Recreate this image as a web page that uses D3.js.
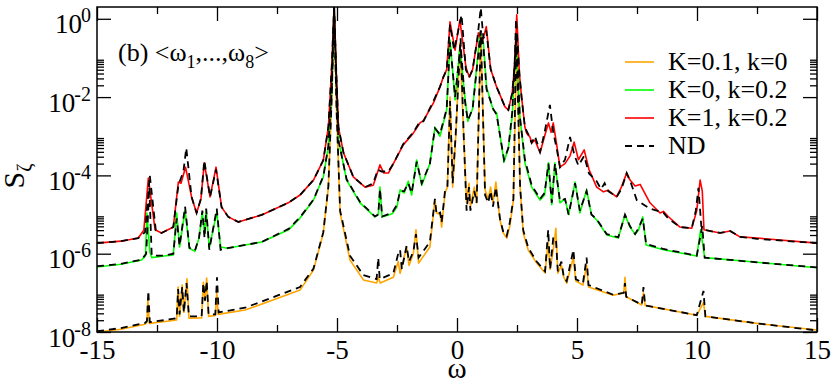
<!DOCTYPE html>
<html>
<head>
<meta charset="utf-8">
<script src="https://cdn.jsdelivr.net/npm/d3@7"></script>
<style>
  body { margin: 0; background: #fff; }
  text { font-family: "Liberation Serif", "Times New Roman", serif; fill: #000; }
</style>
</head>
<body>
<div id="chart"></div>
<script>
// pairs are [omega, log10 S]
const orangeK01 = [[-15,-8.0],[-14,-7.93],[-13.0,-7.80],[-12.92,-7.75],[-12.88,-7.18],[-12.82,-7.78],[-12.0,-7.72],[-11.68,-7.69],[-11.62,-6.85],[-11.56,-7.6],[-11.45,-6.80],[-11.38,-7.5],[-11.25,-6.64],[-11.17,-7.65],[-10.64,-7.64],[-10.57,-6.73],[-10.50,-7.2],[-10.43,-6.62],[-10.35,-7.6],[-10.07,-7.58],[-10.01,-7.0],[-9.95,-7.55],[-8.83,-7.44],[-7.44,-7.13],[-6.54,-6.93],[-5.98,-6.42],[-5.57,-5.47],[-5.36,-4.30],[-5.22,-2.07],[-5.12,0.3],[-5.02,-2.3],[-4.87,-4.96],[-4.46,-6.16],[-3.90,-6.67],[-3.35,-6.75],[-3.28,-6.6],[-3.2,-6.75],[-2.65,-6.60],[-2.45,-6.2],[-2.37,-6.5],[-2.1,-5.83],[-2.0,-6.3],[-1.82,-6.0],[-1.71,-5.39],[-1.60,-6.24],[-1.13,-5.83],[-0.92,-4.63],[-0.85,-4.96],[-0.70,-5.0],[-0.64,-5.32],[-0.50,-4.45],[-0.40,-4.3],[-0.29,-2.0],[-0.18,-4.3],[-0.05,-3.0],[0.12,-0.62],[0.28,-3.0],[0.40,-4.70],[0.50,-4.2],[0.56,-4.8],[0.72,-4.3],[0.82,-4.7],[0.99,-0.40],[1.17,-4.37],[1.30,-4.6],[1.40,-4.3],[1.50,-4.7],[1.62,-4.17],[1.79,-5.14],[1.93,-5.47],[2.07,-5.60],[2.20,-5.3],[2.35,-4.63],[2.49,-0.5],[2.63,-4.3],[2.76,-5.47],[2.97,-5.91],[3.32,-6.24],[3.67,-6.49],[3.80,-5.7],[3.88,-6.4],[4.01,-5.9],[4.12,-5.35],[4.20,-6.5],[4.35,-6.3],[4.45,-6.6],[4.57,-6.75],[4.85,-6.1],[4.95,-6.7],[5.25,-6.8],[5.40,-6.3],[5.48,-6.85],[6.51,-7.06],[6.95,-7.0],[7.0,-6.60],[7.05,-7.1],[7.70,-7.31],[7.77,-7.0],[7.84,-7.32],[9.99,-7.57],[10.27,-7.25],[10.35,-7.6],[12.5,-7.78],[15,-7.95]];

const greenK0 = [[-15,-6.34],[-14,-6.27],[-13.14,-6.16],[-12.98,-6.05],[-12.92,-4.96],[-12.80,-5.95],[-12.72,-6.1],[-12.2,-6.06],[-11.82,-6.03],[-11.68,-4.96],[-11.56,-5.83],[-11.33,-4.89],[-11.15,-5.86],[-10.92,-5.94],[-10.75,-5.6],[-10.61,-4.96],[-10.52,-5.5],[-10.45,-4.90],[-10.32,-5.85],[-10.01,-4.94],[-9.85,-5.83],[-9.57,-5.86],[-8.14,-5.70],[-7.0,-5.38],[-6.54,-5.09],[-5.98,-4.63],[-5.57,-4.04],[-5.36,-3.28],[-5.22,-1.82],[-5.12,0.3],[-5.02,-1.8],[-4.94,-3.09],[-4.6,-4.12],[-4.04,-4.70],[-3.42,-5.06],[-3.28,-5.0],[-3.21,-4.30],[-3.12,-5.06],[-2.7,-4.98],[-2.5,-4.8],[-2.37,-4.37],[-2.2,-4.45],[-2.03,-4.15],[-1.89,-4.5],[-1.68,-3.61],[-1.47,-4.25],[-1.13,-3.7],[-0.92,-2.77],[-0.71,-3.0],[-0.43,-2.33],[-0.29,-0.54],[-0.08,-2.07],[0.12,-0.72],[0.33,-2.0],[0.45,-2.62],[0.65,-2.3],[0.96,-0.36],[1.10,-0.6],[1.23,-1.74],[1.51,-2.33],[1.65,-2.4],[1.96,-3.66],[2.14,-3.3],[2.30,-2.5],[2.46,-0.54],[2.62,-2.5],[2.83,-3.68],[3.11,-4.30],[3.46,-4.63],[3.65,-4.5],[3.81,-3.68],[3.95,-4.75],[4.08,-3.68],[4.29,-4.70],[4.50,-4.6],[4.65,-5.0],[4.92,-4.17],[5.12,-4.96],[5.40,-4.37],[5.60,-5.0],[5.82,-5.14],[6.24,-5.52],[6.72,-5.60],[7.0,-5.01],[7.21,-5.32],[7.42,-5.5],[7.56,-5.4],[7.74,-5.06],[7.88,-5.78],[8.6,-5.9],[9.99,-6.06],[10.15,-5.39],[10.32,-6.1],[12.5,-6.22],[15,-6.36]];

const redK1 = [[-15,-5.73],[-14,-5.68],[-13.28,-5.60],[-13.05,-5.4],[-12.86,-4.07],[-12.58,-5.39],[-12.31,-5.47],[-11.82,-5.32],[-11.61,-4.17],[-11.5,-4.2],[-11.31,-3.79],[-11.06,-4.55],[-10.85,-4.96],[-10.67,-4.6],[-10.53,-3.68],[-10.29,-4.55],[-10.04,-3.79],[-9.81,-4.81],[-9.53,-5.06],[-9.11,-5.19],[-8.14,-5.01],[-7.03,-4.70],[-6.54,-4.50],[-5.98,-4.12],[-5.57,-3.61],[-5.36,-2.77],[-5.22,-1.23],[-5.12,0.3],[-5.02,-1.5],[-4.94,-2.77],[-4.73,-3.42],[-4.32,-4.04],[-3.83,-4.30],[-3.49,-4.25],[-3.30,-3.9],[-3.21,-3.73],[-3.05,-3.94],[-2.86,-3.94],[-2.65,-3.70],[-2.24,-3.22],[-1.82,-2.92],[-1.54,-2.66],[-1.40,-2.6],[-0.98,-2.15],[-0.71,-1.74],[-0.57,-1.49],[-0.43,-1.3],[-0.29,-0.08],[-0.08,-0.80],[0.12,-0.03],[0.37,-1.23],[0.51,-1.49],[0.65,-1.3],[0.89,-0.36],[1.05,-0.6],[1.22,-0.2],[1.40,-1.28],[1.65,-1.74],[2.0,-2.25],[2.14,-2.33],[2.30,-1.9],[2.40,-1.2],[2.49,0.1],[2.60,-1.4],[2.69,-2.0],[2.83,-2.77],[2.90,-2.92],[3.04,-3.02],[3.11,-3.17],[3.25,-3.1],[3.46,-3.42],[3.65,-3.0],[3.81,-2.66],[3.92,-2.9],[4.01,-2.66],[4.15,-3.2],[4.29,-3.79],[4.50,-3.7],[4.71,-3.5],[4.88,-3.15],[5.06,-3.6],[5.30,-3.35],[5.50,-3.85],[5.82,-4.30],[6.10,-4.42],[6.30,-4.38],[6.65,-4.55],[6.85,-4.3],[7.07,-3.94],[7.21,-4.12],[7.42,-4.27],[7.63,-4.23],[8.04,-4.70],[8.46,-4.96],[8.6,-4.92],[8.8,-5.05],[9.29,-5.32],[9.78,-5.35],[9.99,-4.9],[10.13,-4.12],[10.22,-4.4],[10.29,-5.39],[10.96,-5.47],[11.38,-5.42],[11.79,-5.57],[12.5,-5.6],[15,-5.73]];

const ndOrange = [[-15,-7.98],[-14,-7.9],[-13.0,-7.77],[-12.92,-7.72],[-12.86,-6.95],[-12.80,-7.75],[-12.0,-7.68],[-11.68,-7.65],[-11.62,-6.9],[-11.56,-7.55],[-11.45,-6.85],[-11.38,-7.5],[-11.27,-6.75],[-11.17,-7.6],[-10.64,-7.6],[-10.57,-6.75],[-10.50,-7.2],[-10.43,-6.7],[-10.35,-7.55],[-10.07,-7.55],[-10.00,-6.60],[-9.93,-7.5],[-8.83,-7.38],[-7.44,-7.06],[-6.54,-6.85],[-5.98,-6.38],[-5.57,-5.45],[-5.36,-4.28],[-5.22,-2.0],[-5.12,0.3],[-5.02,-2.3],[-4.87,-4.9],[-4.46,-6.05],[-3.90,-6.55],[-3.35,-6.65],[-3.28,-6.11],[-3.22,-6.65],[-2.65,-6.5],[-2.45,-6.0],[-2.37,-5.9],[-2.30,-6.4],[-2.1,-5.8],[-2.0,-6.2],[-1.82,-5.95],[-1.71,-5.5],[-1.60,-6.1],[-1.13,-5.7],[-0.92,-4.6],[-0.85,-5.0],[-0.70,-4.95],[-0.64,-5.2],[-0.50,-4.4],[-0.40,-4.3],[-0.29,-2.1],[-0.18,-4.2],[-0.05,-2.9],[0.15,-0.5],[0.28,-3.0],[0.40,-4.9],[0.50,-4.3],[0.56,-4.9],[0.72,-4.4],[0.82,-4.7],[0.99,-0.3],[1.17,-4.5],[1.30,-4.7],[1.40,-4.4],[1.50,-4.8],[1.62,-4.3],[1.79,-5.1],[1.93,-5.45],[2.07,-5.55],[2.20,-5.2],[2.35,-4.6],[2.47,-0.4],[2.63,-4.3],[2.76,-5.4],[2.97,-5.85],[3.32,-6.2],[3.67,-6.45],[3.80,-5.39],[3.88,-6.4],[4.01,-5.6],[4.12,-5.6],[4.20,-6.45],[4.35,-6.2],[4.45,-6.6],[4.57,-6.7],[4.85,-5.9],[4.95,-6.65],[5.25,-6.75],[5.40,-6.1],[5.48,-6.8],[6.51,-7.05],[6.95,-7.0],[7.0,-6.75],[7.05,-7.1],[7.70,-7.3],[7.77,-6.85],[7.84,-7.32],[9.99,-7.57],[10.27,-6.95],[10.35,-7.6],[12.5,-7.78],[15,-7.96]];

const ndGreen = [[-15,-6.32],[-14,-6.26],[-13.14,-6.15],[-12.95,-6.0],[-12.82,-4.3],[-12.72,-6.05],[-12.2,-6.05],[-11.82,-6.0],[-11.68,-5.1],[-11.56,-5.8],[-11.33,-4.8],[-11.15,-5.85],[-10.92,-5.92],[-10.75,-5.6],[-10.61,-4.9],[-10.52,-5.6],[-10.45,-4.85],[-10.32,-5.9],[-10.01,-4.85],[-9.85,-5.9],[-9.57,-5.86],[-8.14,-5.70],[-7.0,-5.36],[-6.54,-5.07],[-5.98,-4.62],[-5.57,-4.02],[-5.36,-3.25],[-5.22,-1.8],[-5.12,0.3],[-5.02,-1.8],[-4.94,-3.1],[-4.6,-4.1],[-4.04,-4.68],[-3.42,-5.05],[-3.28,-5.0],[-3.21,-4.35],[-3.12,-5.05],[-2.7,-4.95],[-2.5,-4.75],[-2.37,-4.4],[-2.2,-4.4],[-2.03,-4.2],[-1.89,-4.45],[-1.68,-3.65],[-1.47,-4.2],[-1.13,-3.7],[-0.92,-2.8],[-0.71,-2.95],[-0.43,-2.3],[-0.29,-0.6],[-0.08,-2.0],[0.15,-0.65],[0.33,-2.1],[0.45,-2.6],[0.65,-2.3],[0.99,-0.3],[1.10,-0.7],[1.23,-1.8],[1.51,-2.3],[1.65,-2.45],[1.96,-3.6],[2.14,-3.3],[2.30,-2.4],[2.47,-0.4],[2.62,-2.5],[2.83,-3.6],[3.11,-4.25],[3.46,-4.6],[3.65,-4.45],[3.81,-3.7],[3.95,-4.7],[4.08,-3.7],[4.29,-4.65],[4.50,-4.6],[4.65,-5.0],[4.92,-4.2],[5.12,-4.9],[5.40,-4.4],[5.60,-5.0],[5.82,-5.12],[6.24,-5.5],[6.72,-5.58],[7.0,-5.0],[7.21,-5.3],[7.42,-5.5],[7.56,-5.35],[7.74,-5.1],[7.88,-5.75],[8.6,-5.88],[9.99,-6.05],[10.22,-5.3],[10.32,-6.1],[12.5,-6.22],[15,-6.35]];

const ndRed = [[-15,-5.73],[-14,-5.68],[-13.28,-5.60],[-13.0,-5.45],[-12.80,-4.0],[-12.55,-5.40],[-12.31,-5.47],[-11.82,-5.32],[-11.61,-4.25],[-11.40,-3.9],[-11.28,-3.30],[-11.06,-4.55],[-10.85,-4.96],[-10.67,-4.6],[-10.53,-3.62],[-10.29,-4.55],[-10.04,-3.85],[-9.81,-4.81],[-9.53,-5.06],[-9.11,-5.19],[-8.14,-5.01],[-7.03,-4.70],[-6.54,-4.50],[-5.98,-4.12],[-5.57,-3.61],[-5.36,-2.77],[-5.22,-1.23],[-5.12,0.3],[-5.02,-1.5],[-4.94,-2.77],[-4.73,-3.42],[-4.32,-4.04],[-3.83,-4.30],[-3.49,-4.2],[-3.30,-3.85],[-3.15,-3.9],[-2.86,-3.90],[-2.65,-3.70],[-2.24,-3.20],[-1.82,-2.90],[-1.54,-2.62],[-1.40,-2.62],[-0.98,-2.10],[-0.71,-1.74],[-0.57,-1.49],[-0.43,-1.3],[-0.29,-0.15],[-0.12,-0.8],[0.19,0.1],[0.37,-1.3],[0.51,-1.49],[0.65,-1.3],[0.85,-0.5],[0.99,0.28],[1.10,-0.5],[1.22,-0.3],[1.40,-1.28],[1.65,-1.74],[2.0,-2.25],[2.14,-2.33],[2.30,-1.9],[2.40,-1.2],[2.46,0.0],[2.60,-1.4],[2.69,-2.0],[2.83,-2.77],[2.97,-2.95],[3.11,-3.17],[3.25,-3.0],[3.46,-3.40],[3.65,-2.9],[3.87,-2.20],[4.01,-2.9],[4.15,-3.3],[4.29,-3.79],[4.50,-3.6],[4.71,-3.02],[4.90,-3.5],[5.06,-3.75],[5.30,-3.5],[5.50,-3.95],[5.82,-4.15],[6.0,-4.35],[6.15,-4.2],[6.30,-4.4],[6.65,-4.55],[6.85,-4.35],[7.07,-3.94],[7.25,-4.2],[7.49,-4.63],[8.04,-4.85],[8.6,-4.95],[8.8,-5.1],[9.29,-5.32],[9.78,-5.35],[9.95,-4.9],[10.06,-4.32],[10.18,-5.3],[10.29,-5.39],[10.96,-5.47],[11.38,-5.42],[11.79,-5.57],[12.5,-5.62],[15,-5.73]];

const xMajor = [-15, -10, -5, 0, 5, 10, 15];
const xMinor = [-12.5, -7.5, -2.5, 2.5, 7.5, 12.5];
const yMajorExp = [0, -2, -4, -6, -8];
const yMinorMult = [2, 3, 4, 5, 6, 7, 8, 9];
const legendLabels = ["K=0.1, k=0", "K=0, k=0.2", "K=1, k=0.2", "ND"];
const legendColors = ["#ffa500", "#00ff00", "#ff0000", "#000000"];

const width = 831, height = 384;
const margin = { top: 7, right: 14, bottom: 52, left: 97 };
const plotW = width - margin.left - margin.right;
const plotH = height - margin.top - margin.bottom;

const svg = d3.select("#chart").append("svg")
    .attr("width", width)
    .attr("height", height);

const g = svg.append("g")
    .attr("transform", `translate(${margin.left},${margin.top})`);

const x = d3.scaleLinear().domain([-15, 15]).range([0, plotW]);
const y = d3.scaleLog().domain([1e-8, 2]).range([plotH, 0]);

g.append("clipPath").attr("id", "clip")
  .append("rect").attr("width", plotW).attr("height", plotH);

const line = d3.line()
    .x(d => x(d[0]))
    .y(d => y(Math.pow(10, d[1])));

const curves = g.append("g").attr("clip-path", "url(#clip)");

[[orangeK01, "#ffa500"], [greenK0, "#00ff00"], [redK1, "#ff0000"]].forEach(([data, col]) => {
  curves.append("path")
      .datum(data)
      .attr("d", line)
      .attr("fill", "none")
      .attr("stroke", col)
      .attr("stroke-width", 1.6)
      .attr("stroke-linejoin", "round");
});

[ndOrange, ndGreen, ndRed].forEach(data => {
  curves.append("path")
      .datum(data)
      .attr("d", line)
      .attr("fill", "none")
      .attr("stroke", "#000")
      .attr("stroke-width", 1.8)
      .attr("stroke-dasharray", "7,5");
});

// axes, ticks inward on all four sides
const yMinor = yMajorExp.flatMap(e => yMinorMult.map(k => k * Math.pow(10, e))).filter(v => v < 1.99);
const yMajor = yMajorExp.map(e => Math.pow(10, e));

function styleAxis(sel) {
  sel.select(".domain").remove();
  sel.selectAll(".tick line").attr("stroke", "#000").attr("stroke-width", 1.3);
}

g.append("g").attr("transform", `translate(0,${plotH})`)
  .call(d3.axisBottom(x).tickValues(xMinor).tickSize(-7).tickFormat(""))
  .call(styleAxis);
const xAx = g.append("g").attr("transform", `translate(0,${plotH})`)
  .call(d3.axisBottom(x).tickValues(xMajor).tickSize(-14).tickPadding(8).tickFormat(d => String(d)))
  .call(styleAxis);
xAx.attr("font-family", null);
xAx.selectAll(".tick text").attr("font-size", 27);

g.append("g")
  .call(d3.axisTop(x).tickValues(xMinor).tickSize(-7).tickFormat(""))
  .call(styleAxis);
g.append("g")
  .call(d3.axisTop(x).tickValues(xMajor).tickSize(-14).tickFormat(""))
  .call(styleAxis);

g.append("g")
  .call(d3.axisLeft(y).tickValues(yMinor).tickSize(-7).tickFormat(""))
  .call(styleAxis);
const yAx = g.append("g")
  .call(d3.axisLeft(y).tickValues(yMajor).tickSize(-14).tickFormat(""))
  .call(styleAxis);
yAx.attr("font-family", null);

g.append("g").attr("transform", `translate(${plotW},0)`)
  .call(d3.axisRight(y).tickValues(yMinor).tickSize(-7).tickFormat(""))
  .call(styleAxis);
g.append("g").attr("transform", `translate(${plotW},0)`)
  .call(d3.axisRight(y).tickValues(yMajor).tickSize(-14).tickFormat(""))
  .call(styleAxis);

yAx.selectAll(".tick").each(function(d) {
  const t = d3.select(this).select("text")
      .attr("x", -6).attr("dy", null).attr("y", 14)
      .attr("text-anchor", "end");
  t.append("tspan").attr("font-size", 27).text("10");
  t.append("tspan").attr("font-size", 20).attr("dx", -1).attr("dy", -11)
    .text(String(Math.round(Math.log10(d))));
});

g.append("rect")
  .attr("width", plotW).attr("height", plotH)
  .attr("fill", "none").attr("stroke", "#000").attr("stroke-width", 1.5);

// axis titles
svg.append("text")
  .attr("x", margin.left + plotW / 2).attr("y", 378)
  .attr("text-anchor", "middle").attr("font-size", 29)
  .text("ω");

const ylab = svg.append("text")
  .attr("transform", "translate(24,176) rotate(-90)")
  .attr("text-anchor", "middle");
ylab.append("tspan").attr("font-size", 30).text("S");
ylab.append("tspan").attr("font-size", 20).attr("dy", 7).text("ζ");

// panel annotation
const ann = svg.append("text").attr("x", 118).attr("y", 61).attr("font-size", 26);
ann.append("tspan").text("(b) <ω");
ann.append("tspan").attr("font-size", 18).attr("dy", 7).text("1");
ann.append("tspan").attr("dy", -7).text(",...,ω");
ann.append("tspan").attr("font-size", 18).attr("dy", 7).text("8");
ann.append("tspan").attr("dy", -7).text(">");

// legend
const leg = svg.append("g").attr("transform", "translate(625,62)");
legendLabels.forEach((lab, i) => {
  const row = leg.append("g").attr("transform", `translate(0,${i * 28})`);
  row.append("line")
      .attr("x1", 0).attr("x2", 29)
      .attr("stroke", legendColors[i])
      .attr("stroke-width", i === 3 ? 1.8 : 1.6)
      .attr("stroke-dasharray", i === 3 ? "7,5" : null);
  row.append("text")
      .attr("x", 43).attr("y", 8)
      .attr("font-size", 26)
      .text(lab);
});
</script>
</body>
</html>
